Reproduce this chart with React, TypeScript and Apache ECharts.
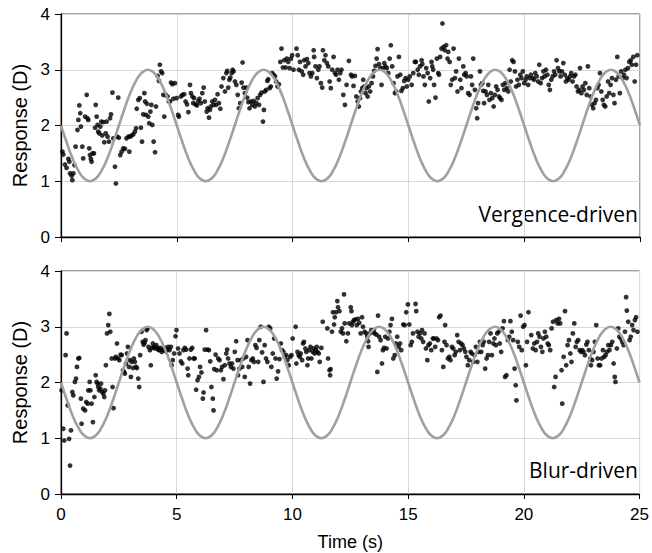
import React, { useEffect, useRef } from "react";
import * as echarts from "echarts";

const xTicks = [0, 5, 10, 15, 20, 25];
const yTicks = [0, 1, 2, 3, 4];
const stimStep = 0.25;
const stimulus = [
  2.0, 1.69, 1.41, 1.19, 1.05, 1.0, 1.05, 1.19, 1.41, 1.69, 2.0, 2.31, 2.59, 2.81, 2.95, 3.0, 2.95, 2.81, 2.59, 2.31,
  2.0, 1.69, 1.41, 1.19, 1.05, 1.0, 1.05, 1.19, 1.41, 1.69, 2.0, 2.31, 2.59, 2.81, 2.95, 3.0, 2.95, 2.81, 2.59, 2.31,
  2.0, 1.69, 1.41, 1.19, 1.05, 1.0, 1.05, 1.19, 1.41, 1.69, 2.0, 2.31, 2.59, 2.81, 2.95, 3.0, 2.95, 2.81, 2.59, 2.31,
  2.0, 1.69, 1.41, 1.19, 1.05, 1.0, 1.05, 1.19, 1.41, 1.69, 2.0, 2.31, 2.59, 2.81, 2.95, 3.0, 2.95, 2.81, 2.59, 2.31,
  2.0, 1.69, 1.41, 1.19, 1.05, 1.0, 1.05, 1.19, 1.41, 1.69, 2.0, 2.31, 2.59, 2.81, 2.95, 3.0, 2.95, 2.81, 2.59, 2.31,
  2.0,
];

const vergenceData: [number, number][] = [
  [0.06,1.53],[0.10,1.48],[0.17,1.30],[0.24,1.24],[0.32,1.40],[0.36,1.35],[0.39,1.14],[0.46,1.10],[0.49,1.02],[0.53,1.14],
  [0.58,1.29],[0.63,1.62],[0.71,1.92],[0.75,2.10],[0.79,2.36],[0.83,2.22],[0.86,1.98],[0.92,1.62],[0.96,1.41],[1.04,2.16],
  [1.11,2.55],[1.14,2.13],[1.18,2.10],[1.22,1.59],[1.25,1.47],[1.29,1.40],[1.32,1.35],[1.37,1.50],[1.42,1.50],[1.47,1.96],
  [1.50,2.37],[1.54,2.16],[1.58,2.01],[1.61,1.89],[1.65,1.86],[1.70,1.98],[1.74,2.07],[1.78,1.82],[1.83,2.06],[1.87,1.70],
  [1.93,1.86],[1.97,2.07],[2.01,1.80],[2.07,1.71],[2.12,2.13],[2.16,2.20],[2.22,2.59],[2.26,1.77],[2.33,1.26],[2.37,0.96],
  [2.42,1.80],[2.47,2.50],[2.50,1.78],[2.56,1.47],[2.62,1.53],[2.69,1.59],[2.76,1.58],[2.83,1.77],[2.91,1.80],[2.95,1.53],
  [2.99,1.80],[3.05,1.82],[3.12,1.84],[3.19,1.89],[3.24,1.95],[3.27,2.30],[3.34,2.46],[3.40,2.49],[3.45,1.96],[3.50,1.71],
  [3.55,2.20],[3.60,2.58],[3.63,2.43],[3.67,2.19],[3.71,2.39],[3.77,2.16],[3.81,2.04],[3.86,2.25],[3.90,2.37],[3.94,2.01],
  [4.00,1.71],[4.06,1.52],[4.10,2.34],[4.17,2.89],[4.23,2.80],[4.27,3.09],[4.32,2.97],[4.37,2.94],[4.42,2.55],[4.46,2.16],
  [4.52,2.55],[4.60,2.52],[4.66,2.43],[4.71,2.43],[4.75,2.77],[4.81,2.74],[4.85,2.48],[4.92,2.76],[4.99,2.49],[5.06,2.19],
  [5.09,2.16],[5.18,2.52],[5.24,2.55],[5.32,2.56],[5.38,2.43],[5.44,2.38],[5.50,2.24],[5.57,2.73],[5.61,2.58],[5.67,2.52],
  [5.71,2.40],[5.75,2.49],[5.81,2.38],[5.87,2.36],[5.93,2.44],[5.98,2.48],[6.04,2.40],[6.10,2.58],[6.16,2.68],[6.21,2.43],
  [6.29,2.25],[6.33,2.31],[6.39,2.14],[6.43,2.28],[6.47,2.34],[6.53,2.43],[6.59,2.37],[6.65,2.46],[6.70,2.37],[6.76,2.56],
  [6.82,2.40],[6.88,2.30],[6.93,2.70],[7.01,2.85],[7.08,2.61],[7.14,2.94],[7.18,2.98],[7.22,2.68],[7.27,2.82],[7.31,2.86],
  [7.37,2.94],[7.41,3.00],[7.45,2.97],[7.51,2.79],[7.57,2.73],[7.63,2.55],[7.68,2.31],[7.74,2.40],[7.80,2.77],[7.84,3.13],
  [7.88,2.68],[7.94,2.58],[8.00,2.68],[8.04,2.50],[8.09,2.42],[8.14,2.31],[8.20,2.43],[8.26,2.37],[8.32,2.44],[8.37,2.34],
  [8.43,2.40],[8.49,2.49],[8.55,2.37],[8.60,2.55],[8.66,2.59],[8.72,2.07],[8.76,2.28],[8.80,2.61],[8.86,2.64],[8.91,2.80],
  [8.95,2.83],[9.01,2.67],[9.06,2.70],[9.12,2.94],[9.18,2.91],[9.24,2.88],[9.29,2.79],[9.35,2.70],[9.41,2.74],[9.47,3.14],
  [9.52,3.38],[9.58,3.04],[9.64,3.17],[9.70,3.04],[9.75,3.20],[9.81,3.14],[9.87,3.03],[9.93,3.20],[9.98,3.26],[10.04,3.00],
  [10.17,3.38],[10.22,3.26],[10.27,3.00],[10.32,3.14],[10.39,2.97],[10.46,2.91],[10.50,3.17],[10.56,3.06],[10.62,3.19],[10.68,3.12],
  [10.73,2.94],[10.79,2.88],[10.85,2.94],[10.91,3.35],[10.93,3.23],[10.99,3.06],[11.05,2.85],[11.11,3.00],[11.16,3.06],[11.22,2.76],
  [11.28,2.68],[11.31,3.35],[11.37,3.17],[11.42,3.26],[11.48,3.12],[11.54,3.06],[11.60,2.79],[11.65,2.67],[11.71,3.00],[11.77,3.23],
  [11.83,2.94],[11.88,2.91],[11.94,3.00],[12.00,2.82],[12.06,2.94],[12.11,3.00],[12.19,2.55],[12.26,2.37],[12.33,2.73],[12.43,3.16],
  [12.52,2.91],[12.57,2.88],[12.63,2.71],[12.69,2.89],[12.75,2.52],[12.81,2.43],[12.86,2.34],[12.91,2.49],[12.95,2.61],[13.01,2.67],
  [13.05,2.82],[13.09,2.70],[13.15,2.58],[13.19,2.67],[13.24,2.52],[13.29,2.70],[13.35,2.61],[13.41,2.76],[13.47,2.88],[13.52,2.98],
  [13.58,3.07],[13.63,3.20],[13.67,3.37],[13.73,3.10],[13.78,3.03],[13.84,2.73],[13.90,3.03],[13.96,3.12],[14.01,3.06],[14.07,3.03],
  [14.13,2.94],[14.19,3.20],[14.24,3.44],[14.30,3.06],[14.36,2.76],[14.42,2.58],[14.47,2.61],[14.53,2.88],[14.59,3.23],[14.65,2.91],
  [14.70,2.62],[14.76,2.67],[14.82,2.80],[14.88,2.85],[14.93,2.70],[14.99,2.82],[15.06,2.88],[15.14,2.73],[15.21,2.94],[15.28,3.14],
  [15.32,3.14],[15.40,3.00],[15.45,2.91],[15.50,3.06],[15.57,3.17],[15.60,3.10],[15.65,2.88],[15.71,2.73],[15.77,3.03],[15.83,2.94],
  [15.88,2.43],[15.94,2.85],[16.00,3.14],[16.03,3.06],[16.07,3.00],[16.11,2.73],[16.17,2.50],[16.23,3.20],[16.29,2.94],[16.32,2.91],
  [16.37,3.23],[16.43,3.38],[16.47,3.83],[16.52,3.41],[16.57,3.35],[16.63,3.44],[16.69,3.20],[16.72,3.32],[16.78,3.14],[16.83,2.73],
  [16.89,2.82],[16.95,3.38],[17.01,2.85],[17.06,2.97],[17.12,2.61],[17.18,3.20],[17.24,2.82],[17.29,2.67],[17.37,3.06],[17.41,2.91],
  [17.47,2.94],[17.52,2.88],[17.58,2.58],[17.64,2.55],[17.70,2.88],[17.75,2.73],[17.80,3.20],[17.87,2.64],[17.93,2.31],[17.97,2.13],
  [18.01,2.40],[18.09,2.97],[18.13,2.73],[18.19,2.76],[18.23,2.62],[18.27,2.40],[18.33,2.61],[18.39,2.55],[18.45,2.73],[18.50,2.46],
  [18.56,2.58],[18.62,2.49],[18.68,2.34],[18.73,2.55],[18.79,2.70],[18.85,2.64],[18.91,2.52],[18.96,2.49],[19.02,2.46],[19.08,2.73],
  [19.14,2.64],[19.19,2.76],[19.25,2.67],[19.31,2.61],[19.37,3.00],[19.42,2.79],[19.48,3.17],[19.54,3.14],[19.60,2.97],[19.65,2.70],
  [19.71,2.82],[19.77,2.73],[19.83,2.91],[19.88,2.85],[19.94,2.97],[20.00,2.76],[20.06,2.82],[20.11,2.88],[20.17,2.73],[20.24,2.85],
  [20.29,2.91],[20.37,2.85],[20.42,2.82],[20.48,2.94],[20.54,2.88],[20.60,2.79],[20.65,3.09],[20.71,2.76],[20.77,2.85],[20.83,2.97],
  [20.88,2.88],[20.94,3.00],[21.00,2.91],[21.06,2.73],[21.11,2.64],[21.17,2.82],[21.23,2.88],[21.29,2.97],[21.34,2.91],[21.40,3.17],
  [21.46,3.03],[21.52,2.97],[21.57,2.88],[21.63,2.97],[21.69,3.12],[21.75,2.91],[21.80,2.79],[21.86,2.85],[21.92,2.82],[21.98,2.88],
  [22.03,2.94],[22.09,2.79],[22.15,2.88],[22.21,2.91],[22.26,2.70],[22.32,2.61],[22.38,2.64],[22.41,3.03],[22.47,2.58],[22.52,2.70],
  [22.58,2.64],[22.64,2.76],[22.70,2.55],[22.75,3.06],[22.81,2.67],[22.87,2.52],[22.93,2.37],[22.98,2.31],[23.04,2.40],[23.10,2.46],
  [23.16,2.67],[23.21,2.73],[23.27,2.94],[23.33,2.61],[23.39,2.46],[23.44,2.37],[23.50,2.34],[23.56,2.52],[23.62,2.79],[23.67,2.58],
  [23.73,2.73],[23.79,2.85],[23.85,2.55],[23.90,2.40],[23.96,2.82],[24.02,3.23],[24.08,2.88],[24.13,2.58],[24.19,2.97],[24.25,2.85],
  [24.31,2.91],[24.37,3.00],[24.42,2.85],[24.48,3.03],[24.54,3.14],[24.60,3.17],[24.65,3.09],[24.71,3.23],[24.77,2.79],[24.83,3.09],
  [24.88,3.26],
];

const blurData: [number, number][] = [
  [0.03,1.86],[0.10,1.17],[0.14,0.96],[0.20,2.49],[0.24,2.88],[0.29,1.59],[0.35,0.99],[0.39,0.51],[0.43,1.14],[0.49,1.83],
  [0.53,1.77],[0.60,2.01],[0.65,2.07],[0.69,2.28],[0.75,2.43],[0.79,2.44],[0.86,1.71],[0.89,1.26],[0.96,1.53],[1.04,1.50],
  [1.09,1.65],[1.15,1.62],[1.18,1.86],[1.24,2.01],[1.27,1.86],[1.32,1.62],[1.38,1.29],[1.44,1.74],[1.50,2.13],[1.54,2.01],
  [1.58,1.98],[1.61,1.92],[1.65,1.86],[1.70,1.89],[1.73,1.98],[1.78,1.83],[1.83,1.80],[1.87,1.74],[1.90,1.86],[1.94,2.31],
  [1.99,2.88],[2.04,3.03],[2.09,3.23],[2.13,2.91],[2.19,2.43],[2.23,1.92],[2.27,1.54],[2.33,2.43],[2.37,2.46],[2.42,2.70],
  [2.47,2.43],[2.52,2.40],[2.58,2.50],[2.62,2.49],[2.68,2.22],[2.72,2.19],[2.76,2.16],[2.81,2.34],[2.85,2.52],[2.89,2.64],
  [2.94,2.28],[2.98,2.40],[3.02,2.10],[3.06,2.37],[3.11,2.26],[3.15,2.43],[3.19,2.37],[3.24,2.28],[3.28,2.26],[3.34,2.07],
  [3.38,1.92],[3.42,2.49],[3.48,2.91],[3.53,2.73],[3.57,2.68],[3.61,2.71],[3.65,2.76],[3.70,2.94],[3.74,2.97],[3.78,2.64],
  [3.84,2.58],[3.88,2.31],[3.93,2.62],[3.97,2.70],[4.01,2.64],[4.06,2.61],[4.12,2.67],[4.16,2.62],[4.20,2.59],[4.24,2.58],
  [4.29,2.62],[4.35,2.55],[4.39,2.59],[4.43,2.58],[4.49,2.62],[4.53,2.56],[4.58,2.59],[4.63,2.64],[4.69,2.58],[4.75,2.64],
  [4.78,2.31],[4.83,2.40],[4.89,2.52],[4.95,2.83],[4.99,2.94],[5.06,2.61],
  [5.12,2.52],[5.18,2.38],[5.24,2.34],[5.29,2.58],[5.35,2.62],[5.41,2.59],[5.47,2.25],[5.50,2.13],[5.55,2.43],[5.61,2.59],
  [5.67,2.62],[5.73,2.43],[5.78,2.43],[5.84,1.87],[5.90,2.04],[5.96,2.10],[6.01,2.28],[6.07,2.18],[6.13,1.71],[6.16,1.82],
  [6.21,2.59],[6.27,2.94],[6.33,2.59],[6.39,2.58],[6.45,2.38],[6.50,1.92],[6.56,1.71],[6.59,1.50],[6.62,2.24],[6.68,2.50],
  [6.73,2.22],[6.79,2.43],[6.85,2.40],[6.91,2.22],[6.96,2.28],[7.02,2.06],[7.08,2.31],[7.14,2.52],[7.18,2.59],[7.22,2.43],
  [7.28,2.34],[7.34,2.28],[7.39,2.34],[7.45,2.25],[7.51,2.55],[7.57,2.74],[7.63,2.40],[7.65,2.13],[7.71,2.25],[7.77,2.40],
  [7.83,2.28],[7.88,2.43],[7.94,2.10],[8.00,2.46],[8.06,2.76],[8.11,2.28],[8.17,1.98],[8.23,2.40],[8.29,2.43],[8.34,2.37],
  [8.40,2.67],[8.45,2.62],[8.52,2.37],[8.57,2.76],[8.63,3.00],[8.69,2.54],[8.75,2.01],[8.80,2.67],[8.86,2.43],[8.92,2.37],
  [8.98,3.00],[9.04,2.97],[9.09,2.28],[9.15,2.52],[9.21,2.79],[9.27,2.43],[9.32,2.07],[9.38,2.20],[9.44,2.42],[9.50,2.70],
  [9.55,2.58],[9.61,2.55],[9.67,2.46],[9.73,2.49],[9.78,2.40],[9.84,2.31],[9.90,2.46],[9.96,2.49],[10.01,2.79],
  [10.14,3.00],[10.17,2.34],[10.22,2.55],[10.27,2.49],[10.32,2.46],[10.36,2.52],[10.42,2.40],[10.46,2.70],[10.50,2.73],[10.56,2.61],
  [10.60,2.55],[10.65,2.31],[10.68,2.43],[10.73,2.58],[10.78,2.64],[10.82,2.43],[10.88,2.55],[10.92,2.61],[10.96,2.52],[11.01,2.58],
  [11.05,2.64],[11.08,2.55],[11.14,2.52],[11.18,2.37],[11.25,2.62],[11.31,3.09],[11.51,2.97],[11.54,2.43],[11.60,2.22],[11.63,2.13],
  [11.65,2.24],[11.71,2.91],[11.75,3.26],[11.80,3.04],[11.83,3.17],[11.88,3.26],[11.94,3.46],[11.97,3.35],[12.03,3.28],[12.09,2.91],
  [12.14,2.97],[12.19,2.88],[12.23,3.58],[12.26,3.06],[12.33,2.74],[12.40,2.88],[12.46,3.06],[12.52,3.35],[12.55,3.28],[12.57,3.03],
  [12.62,3.09],[12.66,3.12],[12.72,3.13],[12.78,3.03],[12.83,3.14],[12.89,3.07],[12.95,2.88],[13.01,3.17],[13.05,3.00],[13.12,2.91],
  [13.18,2.88],[13.24,2.82],[13.27,2.74],[13.29,2.64],[13.35,2.88],[13.41,2.94],[13.47,2.91],[13.52,2.94],[13.55,2.88],[13.63,2.86],
  [13.67,2.19],[13.70,3.20],[13.75,2.82],[13.81,2.76],[13.87,2.34],[13.91,2.58],[13.96,2.62],[14.01,2.82],[14.07,2.61],[14.13,2.79],
  [14.19,2.91],[14.24,3.03],[14.30,3.14],[14.36,2.43],[14.42,2.49],[14.47,2.70],[14.53,2.82],[14.59,2.64],[14.65,2.70],[14.70,2.58],
  [14.79,3.04],[14.85,3.03],[14.92,3.26],[14.99,3.40],[15.05,3.04],[15.11,2.67],[15.16,2.73],[15.21,2.88],
  [15.32,3.41],[15.35,3.28],[15.40,2.91],[15.45,2.82],[15.51,2.88],[15.57,2.79],[15.60,2.94],[15.65,2.73],[15.71,2.88],[15.77,2.61],
  [15.83,2.40],[15.88,2.67],[15.94,2.70],[16.00,2.58],[16.07,2.79],[16.11,2.79],[16.17,2.64],[16.23,2.79],[16.29,2.76],[16.34,3.17],
  [16.40,3.20],[16.46,2.58],[16.52,2.28],[16.57,2.73],[16.60,3.03],[16.66,2.67],[16.72,2.43],[16.78,2.46],[16.83,2.40],[16.89,2.64],
  [16.95,2.61],[17.01,2.49],[17.06,2.55],[17.12,2.85],[17.18,2.73],[17.24,2.58],[17.29,2.70],[17.35,2.67],[17.41,2.61],[17.47,2.55],
  [17.52,2.46],[17.58,2.31],[17.64,2.40],[17.70,2.55],[17.75,2.52],[17.81,2.37],[17.87,2.49],[17.93,2.64],[17.99,2.37],[18.04,2.55],
  [18.10,2.73],[18.16,2.55],[18.22,2.67],[18.27,2.73],[18.33,2.25],[18.39,2.43],[18.45,2.49],[18.50,2.73],[18.56,2.88],[18.62,2.49],
  [18.68,2.70],[18.73,2.79],[18.79,2.67],[18.85,2.88],[18.91,2.91],[18.96,2.70],[19.02,2.55],[19.08,2.97],[19.14,3.10],[19.19,2.10],
  [19.25,2.13],[19.31,2.76],[19.37,2.82],[19.42,3.10],[19.48,2.91],[19.54,2.76],[19.60,2.25],[19.65,1.95],[19.68,1.68],[19.74,2.73],
  [19.80,2.64],[19.86,3.20],[19.91,2.58],[19.97,3.00],[20.03,3.03],[20.09,2.31],[20.14,2.73],[20.20,3.26],
  [20.32,2.85],[20.39,2.61],[20.45,2.70],[20.51,2.58],[20.57,2.73],[20.62,2.88],[20.68,2.82],[20.74,2.64],[20.80,2.55],[20.85,2.79],
  [20.91,2.91],[20.97,2.82],[21.03,2.70],[21.08,2.67],[21.14,2.58],[21.20,2.97],[21.26,3.09],[21.31,1.92],[21.37,2.10],[21.40,3.12],
  [21.46,3.06],[21.52,3.14],[21.57,3.06],[21.63,2.22],[21.66,1.62],[21.72,2.46],[21.78,3.28],[21.83,2.31],[21.89,2.67],[21.95,2.76],
  [22.01,2.52],[22.06,2.37],[22.12,2.88],[22.18,3.06],[22.24,2.64],[22.29,2.73],[22.35,2.76],[22.41,2.58],[22.47,2.55],[22.52,2.58],
  [22.58,2.55],[22.64,2.49],[22.70,2.68],[22.75,2.73],[22.81,2.58],[22.87,2.43],[22.90,2.31],[22.95,2.40],[23.01,2.55],[23.07,2.73],
  [23.13,3.03],[23.19,2.43],[23.24,2.31],[23.30,2.31],[23.36,2.43],[23.42,2.58],[23.47,2.46],[23.53,2.49],[23.59,2.55],[23.65,2.67],
  [23.70,2.58],[23.76,2.67],[23.82,2.73],[23.88,2.34],[23.93,2.10],[23.96,2.01],[24.02,2.61],[24.08,2.97],[24.13,2.82],[24.19,2.79],
  [24.25,2.73],[24.31,2.67],[24.37,2.91],[24.42,3.53],[24.45,3.29],[24.51,3.09],[24.57,2.76],[24.62,2.82],[24.68,3.03],[24.74,2.94],
  [24.80,3.12],[24.85,3.17],[24.91,2.91],
];

const panelLabels = ["Vergence-driven", "Blur-driven"];
const yName = "Response (D)";
const xName = "Time (s)";

export default function App() {
  const ref = useRef<HTMLDivElement>(null);
  useEffect(() => {
    if (!ref.current) return;
    const chart = echarts.init(ref.current, undefined, { renderer: "svg" });
    const stimData = stimulus.map((v, i) => [i * stimStep, v]);
    const font = "'Liberation Sans', Arial, sans-serif";
    const mkX = (idx: number, showLabels: boolean) => ({
      type: "value",
      gridIndex: idx,
      min: xTicks[0],
      max: xTicks[xTicks.length - 1],
      interval: 5,
      axisLine: { show: true, onZero: false, lineStyle: { color: "#000", width: 1.3 } },
      axisTick: { show: true, inside: false, length: 5, lineStyle: { color: "#000" } },
      axisLabel: { show: showLabels, color: "#000", fontSize: 17, fontFamily: font, margin: 12 },
      splitLine: { show: true, lineStyle: { color: "#d9d9d9", width: 1 } },
      name: showLabels ? xName : "",
      nameLocation: "middle",
      nameGap: 39,
      nameTextStyle: { color: "#000", fontSize: 18, fontFamily: font },
    });
    const mkY = (idx: number) => ({
      type: "value",
      gridIndex: idx,
      min: yTicks[0],
      max: yTicks[yTicks.length - 1],
      interval: 1,
      axisLine: { show: true, lineStyle: { color: "#000", width: 1.3 } },
      axisTick: { show: true, inside: false, length: 6, lineStyle: { color: "#000" } },
      axisLabel: { color: "#000", fontSize: 17, fontFamily: font, margin: 11 },
      splitLine: { show: true, lineStyle: { color: "#d9d9d9", width: 1 } },
      name: yName,
      nameLocation: "middle",
      nameRotate: 90,
      nameGap: 31,
      nameTextStyle: { color: "#000", fontSize: 20, fontFamily: font },
    });
    chart.setOption({
      animation: false,
      backgroundColor: "#fff",
      grid: [
        { left: 61, top: 14, width: 579, height: 223, show: true, borderColor: "#444", borderWidth: 1 },
        { left: 61, top: 271, width: 579, height: 223, show: true, borderColor: "#444", borderWidth: 1 },
      ],
      xAxis: [mkX(0, false), mkX(1, true)],
      yAxis: [mkY(0), mkY(1)],
      series: [
        { type: "line", xAxisIndex: 0, yAxisIndex: 0, data: stimData, smooth: true, showSymbol: false, lineStyle: { color: "#a0a0a0", width: 2.6 } },
        { type: "scatter", xAxisIndex: 0, yAxisIndex: 0, data: vergenceData, symbolSize: 4.8, itemStyle: { color: "#000" } },
        { type: "line", xAxisIndex: 1, yAxisIndex: 1, data: stimData, smooth: true, showSymbol: false, lineStyle: { color: "#a0a0a0", width: 2.6 } },
        { type: "scatter", xAxisIndex: 1, yAxisIndex: 1, data: blurData, symbolSize: 4.8, itemStyle: { color: "#000" } },
      ],
      graphic: [
        { type: "text", right: 14, top: 203, style: { text: panelLabels[0], fill: "#000", font: '21px "Open Sans", sans-serif' } },
        { type: "text", right: 14, top: 459, style: { text: panelLabels[1], fill: "#000", font: '21px "Open Sans", sans-serif' } },
      ],
    });
    return () => chart.dispose();
  }, []);
  return <div ref={ref} style={{ position: "fixed", left: 0, top: 0, width: 652, height: 553 }} />;
}
